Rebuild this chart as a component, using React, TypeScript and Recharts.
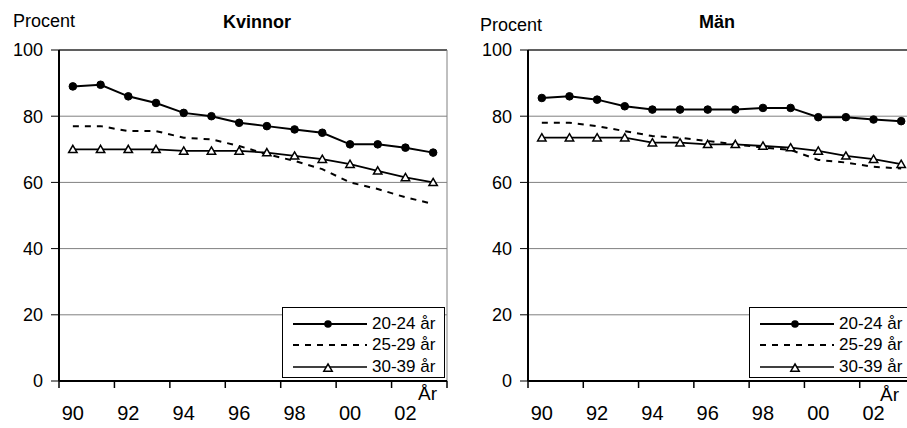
import { LineChart, Line, XAxis, YAxis, CartesianGrid, ReferenceLine, Legend } from "recharts";

// years on the x axis, one category per year
const years = [1990, 1991, 1992, 1993, 1994, 1995, 1996, 1997, 1998, 1999, 2000, 2001, 2002, 2003];
const yearLabels = [1990, 1992, 1994, 1996, 1998, 2000, 2002];
const yearBounds = [1989.5, 1991.5, 1993.5, 1995.5, 1997.5, 1999.5, 2001.5, 2003.5];
const yTicks = [0, 20, 40, 60, 80, 100];
const seriesNames = ["20-24 år", "25-29 år", "30-39 år"];

// Kvinnor
const kvinnor2024 = [89, 89.5, 86, 84, 81, 80, 78, 77, 76, 75, 71.5, 71.5, 70.5, 69];
const kvinnor2529 = [77, 77, 75.5, 75.5, 73.5, 73, 71, 68.5, 66.5, 64, 60, 58, 55.5, 53.5];
const kvinnor3039 = [70, 70, 70, 70, 69.5, 69.5, 69.5, 69, 68, 67, 65.5, 63.5, 61.5, 60];

// Män
const man2024 = [85.5, 86, 85, 83, 82, 82, 82, 82, 82.5, 82.5, 79.7, 79.7, 79, 78.5];
const man2529 = [78, 78, 77, 75.5, 74, 73.5, 72.5, 71.5, 70.5, 69.8, 66.8, 66, 64.7, 64.2];
const man3039 = [73.5, 73.5, 73.5, 73.5, 72, 72, 71.5, 71.5, 71, 70.5, 69.5, 68, 67, 65.5];

const FONT = '"Liberation Sans", Arial, Helvetica, sans-serif';

const build = (a: number[], b: number[], c: number[]) =>
  years.map((year, i) => ({ year, a: a[i], b: b[i], c: c[i] }));

const triPath = (cx: number, cy: number) =>
  `M${cx},${cy - 4} L${cx + 4.2},${cy + 3.2} L${cx - 4.2},${cy + 3.2} Z`;

const TriangleDot = (props: any) => {
  const { cx, cy, index } = props;
  if (cx == null || cy == null) return <g key={`t-${index}`} />;
  return <path key={`t-${index}`} d={triPath(cx, cy)} fill="#fff" stroke="#000" strokeWidth={1.5} />;
};

const LegendBox = ({ payload }: any) => (
  <div
    style={{
      width: 163,
      height: 71,
      border: "1px solid #000",
      background: "#fff",
      boxSizing: "border-box",
      paddingTop: 5,
      fontFamily: FONT,
      fontSize: 17,
      color: "#000",
    }}
  >
    {(payload ?? []).map((entry: any) => (
      <div key={entry.dataKey} style={{ display: "flex", alignItems: "center", height: 21.5 }}>
        <svg width={74} height={12} style={{ marginLeft: 10, flex: "none" }}>
          <line
            x1={0}
            x2={74}
            y1={6}
            y2={6}
            stroke="#000"
            strokeWidth={entry.dataKey === "c" ? 1.7 : 2}
            strokeDasharray={entry.dataKey === "b" ? "6 6" : undefined}
          />
          {entry.dataKey === "a" && <circle cx={35} cy={6} r={3.8} fill="#000" />}
          {entry.dataKey === "c" && <path d={triPath(35, 7)} fill="#fff" stroke="#000" strokeWidth={1.5} />}
        </svg>
        <span style={{ marginLeft: 5, whiteSpace: "nowrap" }}>{entry.value}</span>
      </div>
    ))}
  </div>
);

interface PanelProps {
  left: number;
  title: string;
  data: ReturnType<typeof build>;
  yAxisWidth: number;
  marginRight: number;
  procentLeft: number;
  procentTop: number;
  arLeft: number;
  arTop: number;
  legendLeft: number;
}

function Panel({ left, title, data, yAxisWidth, marginRight, procentLeft, procentTop, arLeft, arTop, legendLeft }: PanelProps) {
  const text = { position: "absolute" as const, fontFamily: FONT, color: "#000", whiteSpace: "nowrap" as const };
  return (
    <div style={{ position: "absolute", left, top: 0, width: 460, height: 428 }}>
      <LineChart width={460} height={428} data={data} margin={{ top: 50, right: marginRight, bottom: 0, left: 0 }}>
        <CartesianGrid horizontal vertical={false} stroke="#808080" xAxisId="b" />
        {/* year labels, sit below the tick-mark axis */}
        <XAxis
          xAxisId="b"
          type="number"
          dataKey="year"
          domain={[1989.5, 2003.5]}
          ticks={yearLabels}
          interval={0}
          height={31}
          axisLine={false}
          tickLine={false}
          tickSize={0}
          tickMargin={9}
          tickFormatter={(v: number) => String(v).slice(2)}
          tick={{ fontSize: 20, fill: "#000", fontFamily: FONT }}
        />
        {/* axis line + tick marks between year pairs */}
        <XAxis
          xAxisId="a"
          type="number"
          dataKey="year"
          domain={[1989.5, 2003.5]}
          ticks={yearBounds}
          interval={0}
          height={16}
          tick={() => <g />}
          tickSize={7}
          axisLine={{ stroke: "#000", strokeWidth: 2 }}
          tickLine={{ stroke: "#000", strokeWidth: 1.5 }}
        />
        <YAxis
          type="number"
          domain={[0, 100]}
          ticks={yTicks}
          interval={0}
          width={yAxisWidth}
          tickSize={8}
          tickMargin={8}
          axisLine={{ stroke: "#000", strokeWidth: 2 }}
          tickLine={{ stroke: "#000", strokeWidth: 1 }}
          tick={{ fontSize: 18, fill: "#000", fontFamily: FONT }}
        />
        <ReferenceLine xAxisId="b" y={100} stroke="#000" strokeWidth={1} />
        <ReferenceLine xAxisId="b" x={2003.5} stroke="#808080" strokeWidth={1} />
        <Line
          xAxisId="b"
          type="linear"
          dataKey="a"
          name={seriesNames[0]}
          stroke="#000"
          strokeWidth={2}
          dot={{ r: 3.8, fill: "#000", stroke: "#000", strokeWidth: 1 }}
          activeDot={false}
          isAnimationActive={false}
        />
        <Line
          xAxisId="b"
          type="linear"
          dataKey="b"
          name={seriesNames[1]}
          stroke="#000"
          strokeWidth={2}
          strokeDasharray="6 6"
          dot={false}
          activeDot={false}
          isAnimationActive={false}
        />
        <Line
          xAxisId="b"
          type="linear"
          dataKey="c"
          name={seriesNames[2]}
          stroke="#000"
          strokeWidth={1.8}
          dot={(p: any) => <TriangleDot {...p} key={`t-${p.index}`} />}
          activeDot={false}
          isAnimationActive={false}
        />
        <Legend
          layout="vertical"
          align="center"
          verticalAlign="middle"
          wrapperStyle={{ left: legendLeft, top: 307, width: 163, height: 71 }}
          content={(p: any) => <LegendBox payload={p.payload} />}
        />
      </LineChart>
      <div style={{ ...text, left: procentLeft, top: procentTop, fontSize: 18, lineHeight: "18px" }}>Procent</div>
      <div style={{ ...text, left: 207, top: 13, width: 100, textAlign: "center", fontSize: 18, fontWeight: "bold", lineHeight: "18px" }}>
        {title}
      </div>
      <div style={{ ...text, left: arLeft, top: arTop, fontSize: 19, lineHeight: "19px" }}>År</div>
    </div>
  );
}

export default function App() {
  return (
    <div style={{ position: "absolute", left: 0, top: 0, width: 907, height: 428, overflow: "hidden", background: "#fff" }}>
      <Panel
        left={0}
        title="Kvinnor"
        data={build(kvinnor2024, kvinnor2529, kvinnor3039)}
        yAxisWidth={59}
        marginRight={13}
        procentLeft={13}
        procentTop={12}
        arLeft={418}
        arTop={384}
        legendLeft={282}
      />
      <Panel
        left={460}
        title="Män"
        data={build(man2024, man2529, man3039)}
        yAxisWidth={68}
        marginRight={5}
        procentLeft={20}
        procentTop={16}
        arLeft={420}
        arTop={385}
        legendLeft={289}
      />
    </div>
  );
}
